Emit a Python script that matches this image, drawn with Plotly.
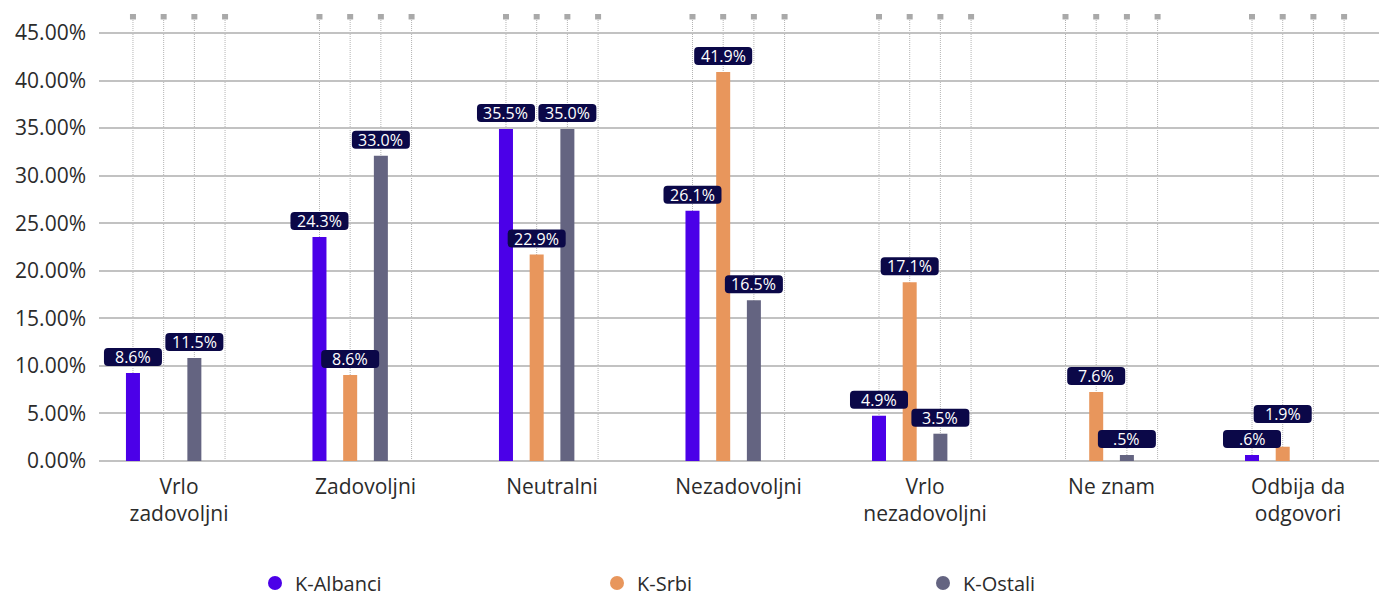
import plotly.graph_objects as go

# ---------------- data ----------------
categories = ["Vrlo<br>zadovoljni", "Zadovoljni", "Neutralni", "Nezadovoljni",
              "Vrlo<br>nezadovoljni", "Ne znam", "Odbija da<br>odgovori"]

series_names = ["K-Albanci", "K-Srbi", "K-Ostali"]

albanci = [9.25, 23.55, 34.9, 26.3, 4.76, None, 0.63]
srbi = [None, 9.04, 21.7, 40.9, 18.8, 7.25, 1.5]
ostali = [10.83, 32.1, 34.9, 16.9, 2.87, 0.63, None]

labels_albanci = ["8.6%", "24.3%", "35.5%", "26.1%", "4.9%", None, ".6%"]
labels_srbi = [None, "8.6%", "22.9%", "41.9%", "17.1%", "7.6%", "1.9%"]
labels_ostali = ["11.5%", "33.0%", "35.0%", "16.5%", "3.5%", ".5%", None]

y_tick_values = [0, 5, 10, 15, 20, 25, 30, 35, 40, 45]
y_tick_labels = ["0.00%", "5.00%", "10.00%", "15.00%", "20.00%", "25.00%",
                 "30.00%", "35.00%", "40.00%", "45.00%"]

# ---------------- styling ----------------
colors = ["#4b00e8", "#e8965c", "#646481"]
FONT = "Open Sans"
TEXT_COLOR = "#2b2b2b"
LABEL_BG = "#0b0848"
GRID = "#c2c2c2"

W, H = 1384, 597
M = dict(l=99, r=5, t=14, b=136)
Y_MAX = 47

n_slots = 4
slot = 0.1646          # slot spacing in category units
bar_w = 0.0751         # bar width in category units
top_val = 46.74        # top of the dotted guide lines
X_RANGE = [-0.429, 6.434]

BOX_W, BOX_H, BOX_GAP, R = 58, 18, 7, 4

series_values = [albanci, srbi, ostali]
series_labels = [labels_albanci, labels_srbi, labels_ostali]

px_per_y = (H - M["t"] - M["b"]) / Y_MAX
px_per_x = (W - M["l"] - M["r"]) / (X_RANGE[1] - X_RANGE[0])


def slot_center(i):
    return (i - (n_slots - 1) / 2) * slot


def rounded_box(bottom):
    hw = BOX_W / 2
    b, t = bottom, bottom + BOX_H
    return (f"M {-hw + R},{b} L {hw - R},{b} Q {hw},{b} {hw},{b + R} "
            f"L {hw},{t - R} Q {hw},{t} {hw - R},{t} L {-hw + R},{t} "
            f"Q {-hw},{t} {-hw},{t - R} L {-hw},{b + R} Q {-hw},{b} {-hw + R},{b} Z")


fig = go.Figure()

for i, (name, vals) in enumerate(zip(series_names, series_values)):
    fig.add_trace(go.Bar(
        x=categories, y=vals, name=name,
        marker=dict(color=colors[i], line=dict(width=0)),
        width=bar_w, offset=slot_center(i) - bar_w / 2,
        showlegend=False, hoverinfo="skip",
    ))

# legend entries with round markers (three separately placed legends)
legend_keys = ["legend", "legend2", "legend3"]
for i, name in enumerate(series_names):
    fig.add_trace(go.Scatter(
        x=[None], y=[None], mode="markers", name=name,
        marker=dict(color=colors[i], size=14, symbol="circle"),
        legend=legend_keys[i], showlegend=True,
    ))

shapes = []
annotations = []

for c in range(len(categories)):
    for s in range(n_slots):
        xpos = c + slot_center(s)
        shapes.append(dict(type="line", xref="x", yref="y", x0=xpos, x1=xpos,
                           y0=0, y1=top_val, layer="below",
                           line=dict(color="#b4b4b4", width=1, dash="1px,1px")))
        shapes.append(dict(type="rect", xref="x", yref="y", xsizemode="pixel",
                           ysizemode="pixel", xanchor=xpos, yanchor=top_val,
                           x0=-3, x1=3, y0=-3, y1=3, layer="above",
                           fillcolor="#a9a9a9", line=dict(width=0)))
        shapes.append(dict(type="rect", xref="x", yref="y", xsizemode="pixel",
                           ysizemode="pixel", xanchor=xpos, yanchor=0,
                           x0=-3, x1=3, y0=-1, y1=1, layer="below",
                           fillcolor="#b0b0b0", line=dict(width=0)))

# value labels: placed above each bar, pushed up if they collide with a
# neighbouring label in the same category
for c in range(len(categories)):
    items = []
    for i in range(len(series_names)):
        v = series_values[i][c]
        lab = series_labels[i][c]
        if v is None or lab is None:
            continue
        items.append((v, i, lab))
    items.sort()
    placed = []  # (x_px, bottom_px, top_px)
    for v, i, lab in items:
        xpos = c + slot_center(i)
        x_px = xpos * px_per_x
        bar_px = v * px_per_y
        bottom = bar_px + BOX_GAP
        moved = True
        while moved:
            moved = False
            for (ox, ob, ot) in placed:
                if abs(ox - x_px) < BOX_W and bottom < ot and bottom + BOX_H > ob:
                    bottom = ot + BOX_GAP
                    moved = True
        placed.append((x_px, bottom, bottom + BOX_H))
        rel = bottom - bar_px
        shapes.append(dict(type="path", xref="x", yref="y", xsizemode="pixel",
                           ysizemode="pixel", xanchor=xpos, yanchor=v,
                           path=rounded_box(rel), fillcolor=LABEL_BG,
                           line=dict(width=0), layer="above"))
        annotations.append(dict(x=xpos, y=v, xref="x", yref="y", text=lab,
                                showarrow=False, yshift=rel + BOX_H / 2,
                                xanchor="center", yanchor="middle",
                                font=dict(family=FONT, size=16, color="white")))

legend_common = dict(xref="container", yref="container", xanchor="left",
                     yanchor="middle", orientation="h",
                     font=dict(size=20, color=TEXT_COLOR),
                     bgcolor="rgba(0,0,0,0)")

fig.update_layout(
    width=W, height=H,
    margin=dict(**M, autoexpand=False),
    paper_bgcolor="white", plot_bgcolor="white",
    barmode="overlay",
    font=dict(family=FONT, color=TEXT_COLOR),
    shapes=shapes, annotations=annotations,
    xaxis=dict(type="category", range=X_RANGE, showgrid=False,
               showline=False, ticks="", tickfont=dict(size=21, color=TEXT_COLOR),
               ticklabelstandoff=11, fixedrange=True),
    yaxis=dict(range=[0, Y_MAX], tickmode="array", tickvals=y_tick_values,
               ticktext=y_tick_labels,
               showgrid=True, gridcolor=GRID, gridwidth=1.5,
               zeroline=True, zerolinecolor=GRID, zerolinewidth=1.5,
               showline=False, ticks="", ticklabelstandoff=12,
               tickfont=dict(size=21, color=TEXT_COLOR), fixedrange=True),
    legend=dict(x=255 / W, y=14 / H, **legend_common),
    legend2=dict(x=597 / W, y=14 / H, **legend_common),
    legend3=dict(x=923 / W, y=14 / H, **legend_common),
)

fig.write_html("out.html", config={"displayModeBar": False},
               post_script="document.body.style.margin='0';")
